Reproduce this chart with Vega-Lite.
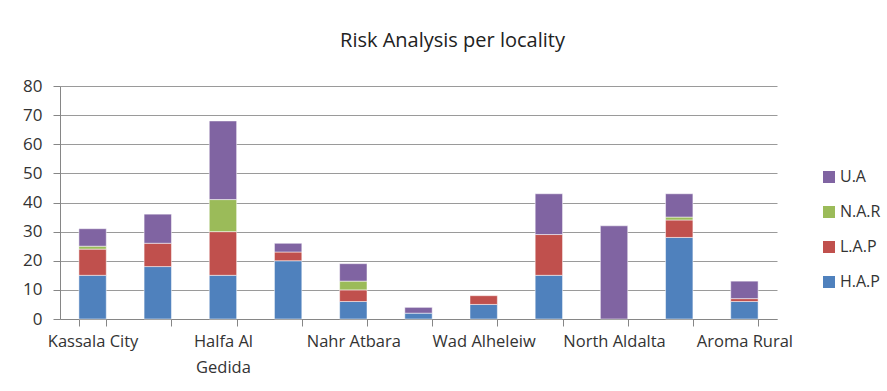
{
  "$schema": "https://vega.github.io/schema/vega-lite/v6.json",
  "width": 717,
  "height": 233,
  "autosize": {"type": "none"},
  "padding": {"left": 60, "top": 86, "right": 110, "bottom": 72},
  "background": "white",
  "title": {"text": "Risk Analysis per locality", "anchor": "middle", "dx": 34, "offset": 26, "fontSize": 20, "font": "Open Sans", "fontWeight": "normal", "color": "#222"},
  "data": {"values": [
    {"loc": "Kassala City", "series": "H.A.P", "value": 15},
    {"loc": "Kassala City", "series": "L.A.P", "value": 9},
    {"loc": "Kassala City", "series": "N.A.R", "value": 1},
    {"loc": "Kassala City", "series": "U.A", "value": 6},
    {"loc": "Rural Kassala", "series": "H.A.P", "value": 18},
    {"loc": "Rural Kassala", "series": "L.A.P", "value": 8},
    {"loc": "Rural Kassala", "series": "U.A", "value": 10},
    {"loc": "Halfa Al Gedida", "series": "H.A.P", "value": 15},
    {"loc": "Halfa Al Gedida", "series": "L.A.P", "value": 15},
    {"loc": "Halfa Al Gedida", "series": "N.A.R", "value": 11},
    {"loc": "Halfa Al Gedida", "series": "U.A", "value": 27},
    {"loc": "Khashm Al Girba", "series": "H.A.P", "value": 20},
    {"loc": "Khashm Al Girba", "series": "L.A.P", "value": 3},
    {"loc": "Khashm Al Girba", "series": "U.A", "value": 3},
    {"loc": "Nahr Atbara", "series": "H.A.P", "value": 6},
    {"loc": "Nahr Atbara", "series": "L.A.P", "value": 4},
    {"loc": "Nahr Atbara", "series": "N.A.R", "value": 3},
    {"loc": "Nahr Atbara", "series": "U.A", "value": 6},
    {"loc": "Gerba", "series": "H.A.P", "value": 2},
    {"loc": "Gerba", "series": "U.A", "value": 2},
    {"loc": "Wad Alheleiw", "series": "H.A.P", "value": 5},
    {"loc": "Wad Alheleiw", "series": "L.A.P", "value": 3},
    {"loc": "Telkuk", "series": "H.A.P", "value": 15},
    {"loc": "Telkuk", "series": "L.A.P", "value": 14},
    {"loc": "Telkuk", "series": "U.A", "value": 14},
    {"loc": "North Aldalta", "series": "U.A", "value": 32},
    {"loc": "Hamashkoreib", "series": "H.A.P", "value": 28},
    {"loc": "Hamashkoreib", "series": "L.A.P", "value": 6},
    {"loc": "Hamashkoreib", "series": "N.A.R", "value": 1},
    {"loc": "Hamashkoreib", "series": "U.A", "value": 8},
    {"loc": "Aroma Rural", "series": "H.A.P", "value": 6},
    {"loc": "Aroma Rural", "series": "L.A.P", "value": 1},
    {"loc": "Aroma Rural", "series": "U.A", "value": 6}
  ]},
  "mark": {"type": "bar", "stroke": "#ffffff", "strokeOpacity": 0.5, "strokeWidth": 1},
  "encoding": {
    "x": {
      "field": "loc", "type": "nominal", "sort": null,
      "scale": {"paddingInner": 0.58, "paddingOuter": 0.29},
      "axis": {
        "title": null, "labelAngle": 0, "tickBand": "extent",
        "labelExpr": "indexof(['Kassala City','Halfa Al Gedida','Nahr Atbara','Wad Alheleiw','North Aldalta','Aroma Rural'], datum.value) >= 0 ? (datum.value == 'Halfa Al Gedida' ? ['Halfa Al','Gedida'] : datum.value) : ''",
        "labelFont": "Open Sans", "labelFontSize": 16.5, "labelColor": "#333", "labelPadding": 7, "labelOverlap": false, "labelLineHeight": 26,
        "domainColor": "#868686", "tickColor": "#868686", "tickSize": 7, "labelBaseline": "top"
      }
    },
    "y": {
      "field": "value", "type": "quantitative", "aggregate": "sum",
      "scale": {"domain": [0, 80], "nice": false},
      "axis": {
        "title": null, "values": [0,10,20,30,40,50,60,70,80],
        "labelFont": "Open Sans", "labelFontSize": 17, "labelColor": "#333", "labelPadding": 11,
        "domainColor": "#868686", "tickColor": "#868686", "tickSize": 7,
        "gridColor": "#9a9a9a", "gridWidth": 1
      }
    },
    "color": {
      "field": "series", "type": "nominal",
      "scale": {"domain": ["U.A", "N.A.R", "L.A.P", "H.A.P"], "range": ["#8064A2", "#9BBB59", "#C0504D", "#4F81BD"]},
      "legend": {
        "title": null, "orient": "none", "legendX": 761, "legendY": 83,
        "symbolType": "square", "symbolSize": 144, "symbolStrokeWidth": 0, "symbolOpacity": 1,
        "labelFont": "Open Sans", "labelFontSize": 16, "labelColor": "#333", "labelOffset": 3, "rowPadding": 19
      }
    },
    "order": {"field": "series", "sort": "ascending"}
  },
  "config": {"view": {"stroke": null}}
}
